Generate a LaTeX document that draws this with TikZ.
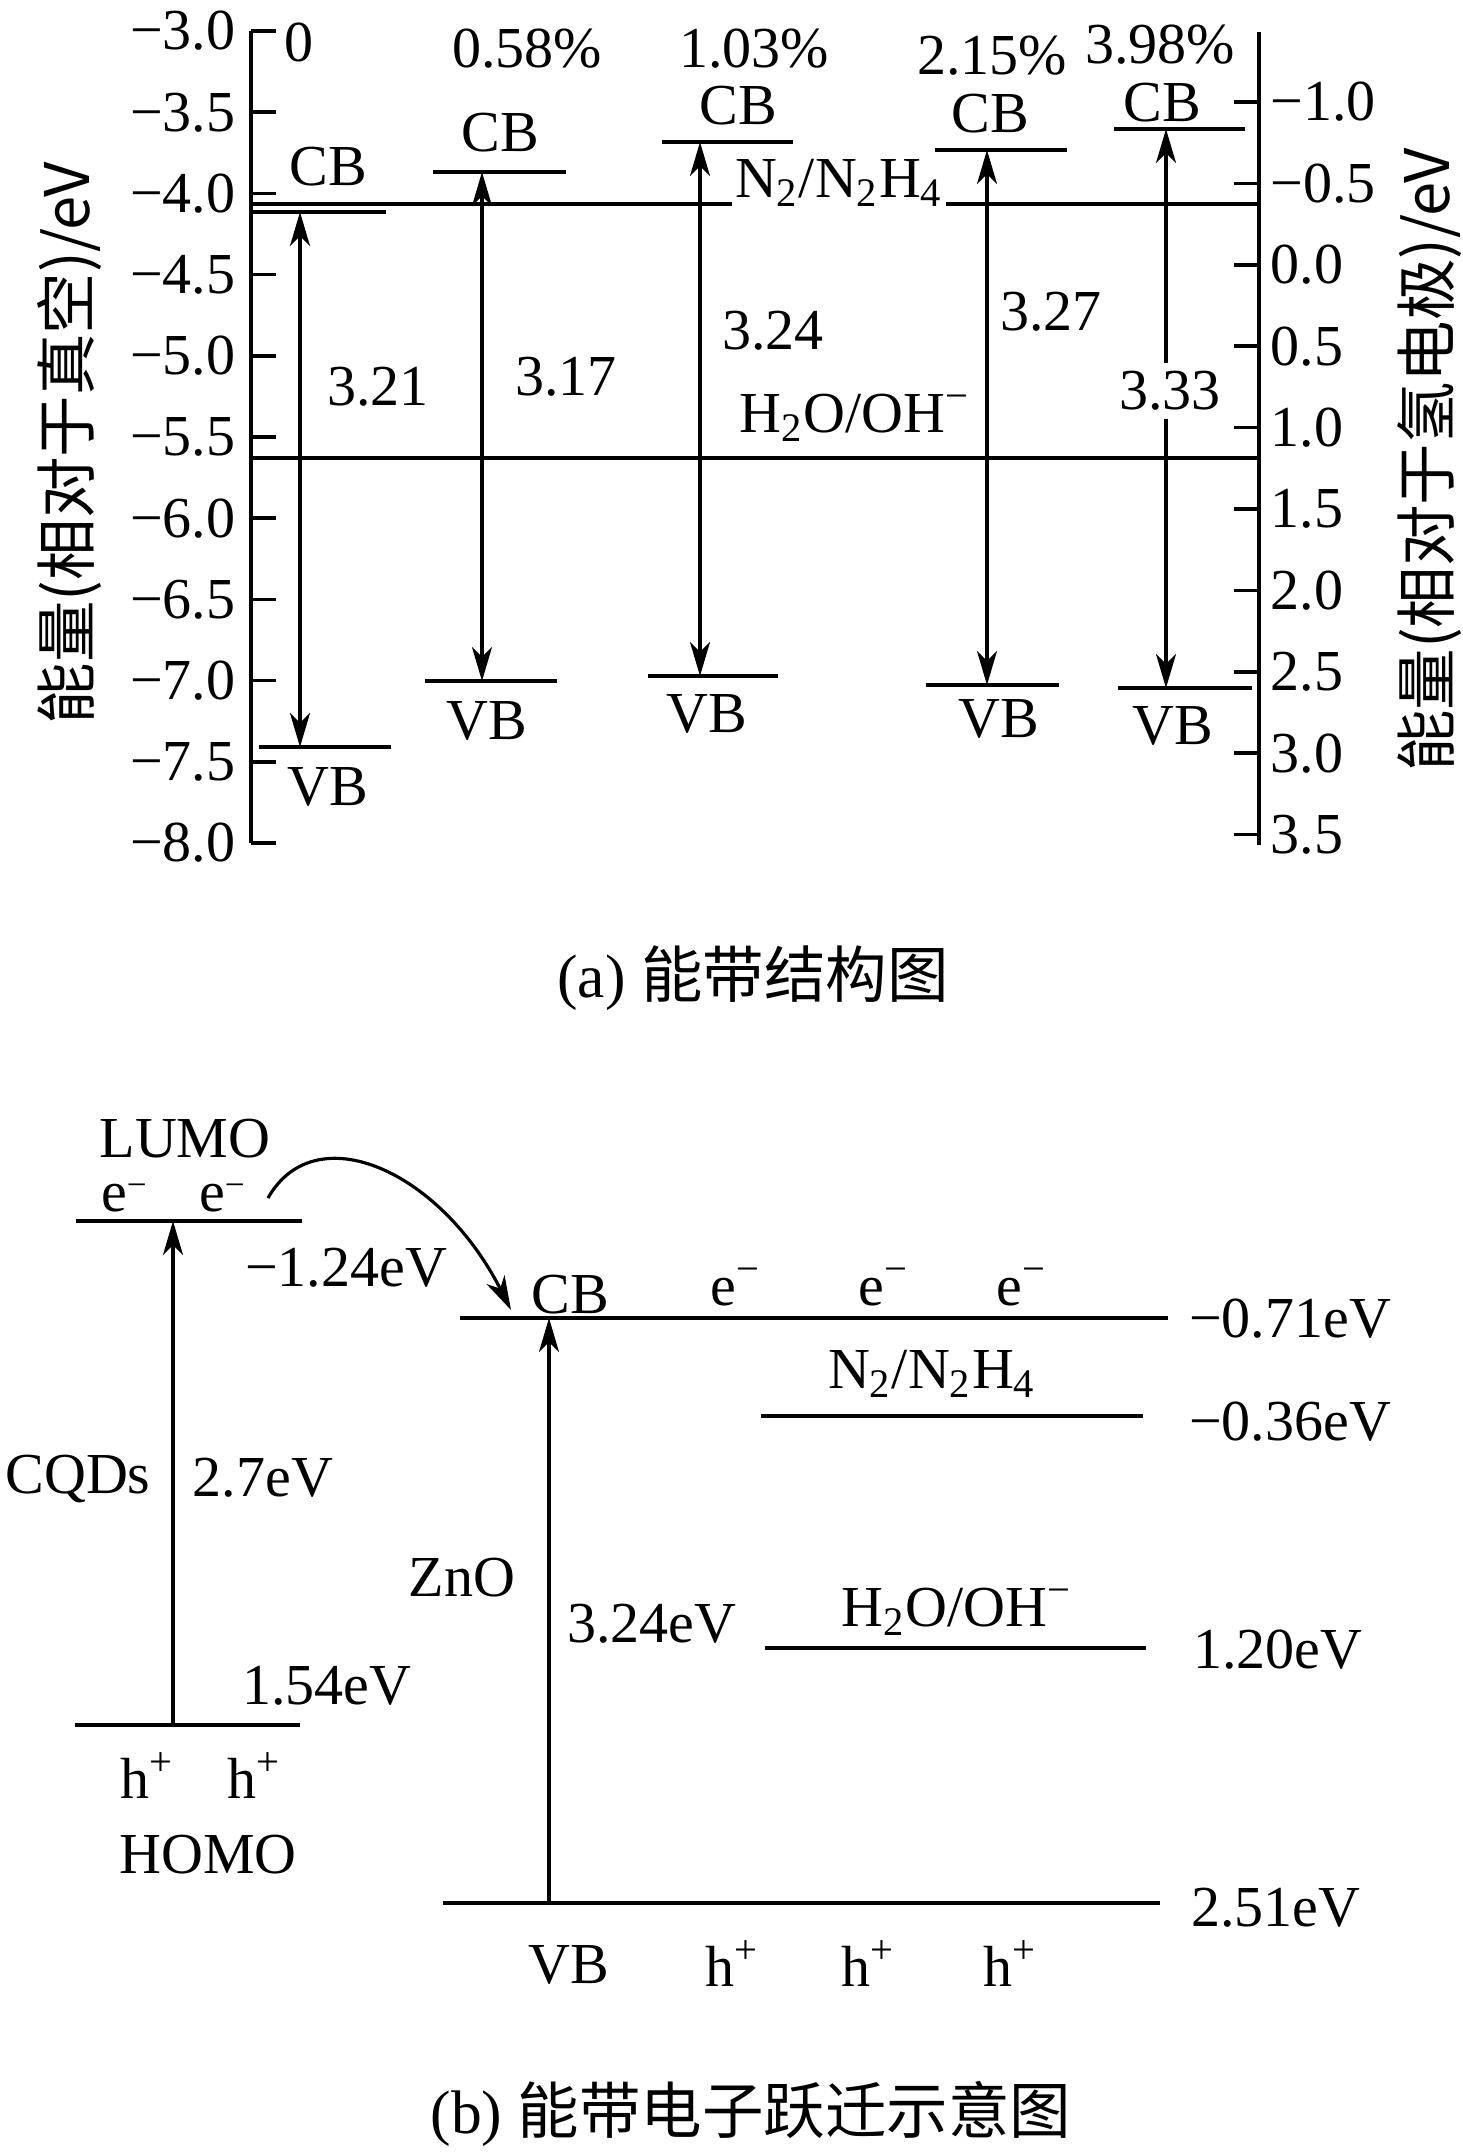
\documentclass[tikz,border=0pt]{standalone}
\usepackage{fontspec}
\setmainfont{Liberation Serif}
\newfontfamily\cjkfont{Noto Sans CJK SC}
\usetikzlibrary{arrows.meta}
\newcommand{\lumoe}{e\raisebox{4pt}{\fontsize{10}{10}\selectfont −}}
\tikzset{
  axisline/.style={line width=1pt},
  bandline/.style={line width=1pt},
  levelline/.style={line width=1.3pt},
  gaparrow/.style={line width=0.9pt,{Stealth[length=3.4mm,width=2mm,inset=1mm]}-{Stealth[length=3.4mm,width=2mm,inset=1mm]}},
  uparrow/.style={line width=0.9pt,-{Stealth[length=3.4mm,width=2mm,inset=1mm]}},
  lbl/.style={font=\fontsize{16.5}{19.8}\selectfont,inner sep=0pt},
  cjklbl/.style={font=\cjkfont\fontsize{17.5}{20}\selectfont,inner sep=0pt},
  caplbl/.style={font=\fontsize{17.5}{20}\selectfont,inner sep=0pt},
}
\begin{document}
\begin{tikzpicture}[x=0.1mm,y=-0.1mm]
\useasboundingbox (0,0) rectangle (1463,2153);

\draw[axisline] (251,31) -- (251,843);
\draw[axisline] (1259,32) -- (1259,845);
\foreach \lab [count=\k from 0] in {−3.0,−3.5,−4.0,−4.5,−5.0,−5.5,−6.0,−6.5,−7.0,−7.5,−8.0}{
  \draw[axisline] (251,{31+81.2*\k}) -- (276,{31+81.2*\k});
  \node[lbl,anchor=east] at (236,{31+81.2*\k}) {\lab};
}
\foreach \lab [count=\k from 0] in {−1.0,−0.5,0.0,0.5,1.0,1.5,2.0,2.5,3.0,3.5}{
  \draw[axisline] (1234,{102+81.4*\k}) -- (1259,{102+81.4*\k});
  \node[lbl,anchor=west] at (1270,{102+81.4*\k}) {\lab};
}
\node[cjklbl,rotate=90] (ylabvac) at (70,443) {能量(相对于真空)/eV};
\node[cjklbl,rotate=90] (ylabnhe) at (1430,460) {能量(相对于氢电极)/eV};

\draw[axisline] (251,204) -- (1259,204);
\draw[axisline] (251,458) -- (1259,458);
\node[lbl,fill=white,inner sep=1pt,anchor=base] (redoxn) at (839,197) {N\textsubscript{2}/N\textsubscript{2}H\textsubscript{4}};
\node[lbl,anchor=base] (redoxo) at (855,432) {H\textsubscript{2}O/OH\textsuperscript{−}};

\coordinate (cb1) at (300,212);
\coordinate (vb1) at (300,747);
\draw[bandline] (251,212) -- (386,212);
\draw[bandline] (259,747) -- (391,747);
\draw[gaparrow] (cb1) -- (vb1);
\node[lbl] (cbtxt1) at (328,167) {CB};
\node[lbl] (vbtxt1) at (328,787) {VB};
\node[lbl] (pct1) at (299,42) {0};
\node[lbl] (gap1) at (378,387) {3.21};

\coordinate (cb2) at (482,172);
\coordinate (vb2) at (482,681);
\draw[bandline] (433,172) -- (566,172);
\draw[bandline] (425,681) -- (557,681);
\draw[gaparrow] (cb2) -- (vb2);
\node[lbl] (cbtxt2) at (500,133) {CB};
\node[lbl] (vbtxt2) at (487,721) {VB};
\node[lbl] (pct2) at (527,49) {0.58\%};
\node[lbl] (gap2) at (566,377) {3.17};

\coordinate (cb3) at (700,142);
\coordinate (vb3) at (700,676);
\draw[bandline] (662,142) -- (793,142);
\draw[bandline] (648,676) -- (778,676);
\draw[gaparrow] (cb3) -- (vb3);
\node[lbl] (cbtxt3) at (738,106) {CB};
\node[lbl] (vbtxt3) at (707,714) {VB};
\node[lbl] (pct3) at (754,49) {1.03\%};
\node[lbl] (gap3) at (773,331) {3.24};

\coordinate (cb4) at (987,150);
\coordinate (vb4) at (987,685);
\draw[bandline] (935,150) -- (1067,150);
\draw[bandline] (926,685) -- (1059,685);
\draw[gaparrow] (cb4) -- (vb4);
\node[lbl] (cbtxt4) at (990,114) {CB};
\node[lbl] (vbtxt4) at (999,719) {VB};
\node[lbl] (pct4) at (992,56) {2.15\%};
\node[lbl] (gap4) at (1051,312) {3.27};

\coordinate (cb5) at (1166,129);
\coordinate (vb5) at (1166,688);
\draw[bandline] (1114,129) -- (1245,129);
\draw[bandline] (1118,688) -- (1252,688);
\draw[gaparrow] (cb5) -- (vb5);
\node[lbl] (cbtxt5) at (1162,103) {CB};
\node[lbl] (vbtxt5) at (1173,726) {VB};
\node[lbl] (pct5) at (1160,45) {3.98\%};
\node[lbl,fill=white,inner sep=0.8mm] (gap5) at (1170,391) {3.33};

\node[caplbl] (capa) at (753,978) {(a) {\cjkfont 能带结构图}};

\coordinate (lumo) at (173,1221);
\coordinate (homo) at (173,1725);
\draw[levelline] (76,1221) -- (302,1221);
\draw[levelline] (75,1725) -- (300,1725);
\draw[uparrow] (homo) -- (lumo);
\node[lbl,anchor=base] (lumotxt) at (185,1157) {LUMO};
\node[lbl,anchor=base] (elumo1) at (124,1211) {\lumoe};
\node[lbl,anchor=base] (elumo2) at (222,1211) {\lumoe};
\node[lbl,anchor=base] (lumoev) at (346,1286) {−1.24eV};
\node[lbl,anchor=base] (cqd) at (78,1493) {CQDs};
\node[lbl,anchor=base] (cqdgap) at (263,1496) {2.7eV};
\node[lbl,anchor=base] (homoev) at (327,1704) {1.54eV};
\node[lbl,anchor=base] (hhomo1) at (147,1798) {h\textsuperscript{+}};
\node[lbl,anchor=base] (hhomo2) at (254,1798) {h\textsuperscript{+}};
\node[lbl,anchor=base] (homotxt) at (208,1873) {HOMO};

\coordinate (zcb) at (549,1318);
\coordinate (zvb) at (549,1903);
\coordinate (hopa) at (268,1198);
\coordinate (hopb) at (511,1310);
\draw[levelline] (460,1318) -- (1168,1318);
\draw[levelline] (761,1416) -- (1143,1416);
\draw[levelline] (765,1648) -- (1146,1648);
\draw[levelline] (443,1903) -- (1160,1903);
\draw[uparrow] (zvb) -- (zcb);
\draw[uparrow] (hopa) .. controls (315,1115) and (440,1170) .. (hopb);
\node[lbl,anchor=base] (zcbtxt) at (570,1313) {CB};
\node[lbl,anchor=base] (ezno1) at (736,1305) {e\textsuperscript{−}};
\node[lbl,anchor=base] (ezno2) at (884,1305) {e\textsuperscript{−}};
\node[lbl,anchor=base] (ezno3) at (1022,1305) {e\textsuperscript{−}};
\node[lbl,anchor=base] (zno) at (462,1596) {ZnO};
\node[lbl,anchor=base] (znogap) at (652,1642) {3.24eV};
\node[lbl,anchor=base] (redoxnb) at (932,1388) {N\textsubscript{2}/N\textsubscript{2}H\textsubscript{4}};
\node[lbl,anchor=base] (redoxob) at (957,1626) {H\textsubscript{2}O/OH\textsuperscript{−}};
\node[lbl,anchor=base] (cbev) at (1290,1337) {−0.71eV};
\node[lbl,anchor=base] (n2ev) at (1290,1440) {−0.36eV};
\node[lbl,anchor=base] (h2oev) at (1278,1668) {1.20eV};
\node[lbl,anchor=base] (vbev) at (1276,1926) {2.51eV};
\node[lbl,anchor=base] (zvbtxt) at (569,1983) {VB};
\node[lbl,anchor=base] (hzno1) at (732,1986) {h\textsuperscript{+}};
\node[lbl,anchor=base] (hzno2) at (868,1986) {h\textsuperscript{+}};
\node[lbl,anchor=base] (hzno3) at (1010,1986) {h\textsuperscript{+}};

\node[caplbl] (capb) at (751,2114) {(b) {\cjkfont 能带电子跃迁示意图}};
\end{tikzpicture}
\end{document}
